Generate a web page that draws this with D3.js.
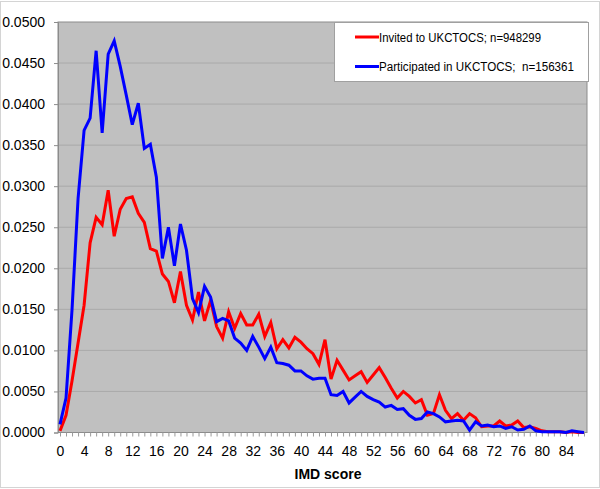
<!DOCTYPE html>
<html>
<head>
<meta charset="utf-8">
<script src="https://cdn.jsdelivr.net/npm/d3@7"></script>
<style>
  html, body { margin: 0; padding: 0; background: #ffffff; }
  svg { display: block; }
  text { font-family: "Liberation Sans", Arial, sans-serif; }
</style>
</head>
<body>
<svg id="chart" width="600" height="489"></svg>
<script>
// IMD score categories 0..87
const imdScores = d3.range(0, 88);

const invited = [
  0.0002, 0.0021, 0.0063, 0.0109, 0.0155, 0.0231, 0.0262, 0.0253, 0.0295, 0.0239,
  0.0272, 0.0285, 0.0287, 0.0267, 0.0256, 0.0224, 0.0221, 0.0193, 0.0184, 0.0158,
  0.0196, 0.0155, 0.0137, 0.0171, 0.0136, 0.0161, 0.0129, 0.0115, 0.0147, 0.0127,
  0.0145, 0.0131, 0.0131, 0.0144, 0.0117, 0.0134, 0.0102, 0.0113, 0.0103, 0.0116,
  0.0110, 0.0102, 0.0096, 0.0083, 0.0113, 0.0065, 0.0088, 0.0076, 0.0064, 0.0069,
  0.0074, 0.0061, 0.0070, 0.0079, 0.0067, 0.0054, 0.0042, 0.0050, 0.0044, 0.0036,
  0.0040, 0.0021, 0.0023, 0.0046, 0.0027, 0.0017, 0.0023, 0.0015, 0.0023, 0.0018,
  0.0007, 0.0008, 0.0008, 0.0014, 0.0008, 0.0009, 0.0014, 0.0006, 0.0007, 0.0005,
  0.0002, 0.0001, 0.0001, 0.0001, 0.0000, 0.0001, 0.0000, 0.0000
];

const participated = [
  0.0010, 0.0042, 0.0150, 0.0285, 0.0368, 0.0383, 0.0465, 0.0365, 0.0461, 0.0477,
  0.0446, 0.0411, 0.0375, 0.0401, 0.0346, 0.0351, 0.0311, 0.0212, 0.0250, 0.0203,
  0.0254, 0.0222, 0.0163, 0.0146, 0.0178, 0.0165, 0.0135, 0.0139, 0.0136, 0.0115,
  0.0109, 0.0100, 0.0117, 0.0104, 0.0090, 0.0104, 0.0085, 0.0084, 0.0082, 0.0075,
  0.0075, 0.0069, 0.0065, 0.0066, 0.0066, 0.0046, 0.0045, 0.0050, 0.0036, 0.0043,
  0.0050, 0.0044, 0.0040, 0.0037, 0.0031, 0.0033, 0.0028, 0.0029, 0.0021, 0.0016,
  0.0017, 0.0025, 0.0023, 0.0019, 0.0013, 0.0014, 0.0015, 0.0014, 0.0003, 0.0013,
  0.0008, 0.0009, 0.0007, 0.0008, 0.0005, 0.0007, 0.0003, 0.0004, 0.0008, 0.0002,
  0.0001, 0.0001, 0.0001, 0.0001, 0.0000, 0.0002, 0.0001, 0.0000
];

const seriesNames = ["Invited to UKCTOCS; n=948299", "Participated in UKCTOCS;  n=156361"];
const seriesColors = ["#ff0000", "#0000ff"];
const yTicks = [0, 0.005, 0.01, 0.015, 0.02, 0.025, 0.03, 0.035, 0.04, 0.045, 0.05];
const xTickLabels = d3.range(0, 85, 4);
const xTitle = "IMD score";

const svg = d3.select("#chart");

// chart-area border
svg.append("rect")
  .attr("x", 0.5).attr("y", 1.5).attr("width", 599).attr("height", 486)
  .attr("fill", "#ffffff").attr("stroke", "#d4d4d4");

const plot = { left: 58, right: 587, top: 22, bottom: 432.5 };

const x = d3.scaleLinear().domain([0, 87.5]).range([60, plot.right]);
const y = d3.scaleLinear().domain([0, 0.05]).range([plot.bottom, plot.top]);

// plot background
svg.append("rect")
  .attr("x", plot.left).attr("y", plot.top)
  .attr("width", plot.right - plot.left).attr("height", plot.bottom - plot.top)
  .attr("fill", "#c0c0c0");

// gridlines
svg.append("g").selectAll("line")
  .data(yTicks.filter(d => d > 0 && d < 0.05))
  .join("line")
  .attr("x1", plot.left).attr("x2", plot.right)
  .attr("y1", d => y(d)).attr("y2", d => y(d))
  .attr("stroke", "#a9a9a9").attr("stroke-width", 1);

// plot border
svg.append("rect")
  .attr("x", plot.left).attr("y", plot.top)
  .attr("width", plot.right - plot.left).attr("height", plot.bottom - plot.top)
  .attr("fill", "none").attr("stroke", "#8c8c8c").attr("stroke-width", 1);

// y axis
const yAxis = d3.axisLeft(y).tickValues(yTicks).tickFormat(d3.format(".4f"))
  .tickSize(4).tickPadding(9);
const gy = svg.append("g").attr("transform", `translate(${plot.left},0)`).call(yAxis);
gy.select(".domain").attr("stroke", "#8c8c8c");
gy.selectAll(".tick line").attr("stroke", "#8c8c8c");
gy.selectAll(".tick text").attr("font-size", 14).attr("fill", "#000")
  .attr("font-family", "'Liberation Sans', Arial, sans-serif");

// x axis: minor ticks every unit, labels every 4
const xAxisMinor = d3.axisBottom(x).tickValues(imdScores).tickFormat("").tickSize(4);
const gxm = svg.append("g").attr("transform", `translate(0,${plot.bottom})`).call(xAxisMinor);
gxm.select(".domain").remove();
gxm.selectAll(".tick line").attr("stroke", "#9a9a9a");

const xAxis = d3.axisBottom(x).tickValues(xTickLabels).tickFormat(d3.format("d"))
  .tickSize(0).tickPadding(14);
const gx = svg.append("g").attr("transform", `translate(0,${plot.bottom})`).call(xAxis);
gx.select(".domain").remove();
gx.selectAll(".tick text").attr("font-size", 14).attr("fill", "#000")
  .attr("font-family", "'Liberation Sans', Arial, sans-serif");

// axis title
svg.append("text")
  .attr("x", 328).attr("y", 479)
  .attr("text-anchor", "middle")
  .attr("font-size", 14).attr("font-weight", "bold").attr("fill", "#000")
  .text(xTitle);

// lines
const line = d3.line().x((d, i) => x(imdScores[i])).y(d => y(d));
[invited, participated].forEach((vals, k) => {
  svg.append("path")
    .datum(vals)
    .attr("d", line)
    .attr("fill", "none")
    .attr("stroke", seriesColors[k])
    .attr("stroke-width", 3)
    .attr("stroke-linejoin", "miter");
});

// legend
const legendTextWidths = [162, 195];
const lg = svg.append("g");
lg.append("rect")
  .attr("x", 334.5).attr("y", 22.5).attr("width", 254).attr("height", 59)
  .attr("fill", "#ffffff").attr("stroke", "#a0a0a0");
seriesNames.forEach((name, k) => {
  const ly = 37 + k * 29.5;
  lg.append("line")
    .attr("x1", 355).attr("x2", 379).attr("y1", ly).attr("y2", ly)
    .attr("stroke", seriesColors[k]).attr("stroke-width", 3);
  lg.append("text")
    .attr("x", 379).attr("y", ly + 4.5)
    .attr("font-size", 12.5).attr("fill", "#000")
    .attr("xml:space", "preserve")
    .style("white-space", "pre")
    .attr("textLength", legendTextWidths[k])
    .attr("lengthAdjust", "spacingAndGlyphs")
    .text(name);
});
</script>
</body>
</html>
